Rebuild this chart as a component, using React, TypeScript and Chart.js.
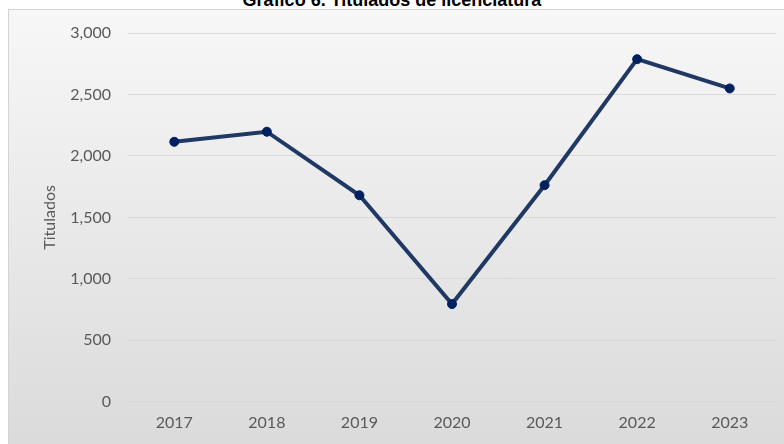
import React, { useEffect, useRef } from "react";
import { Chart, registerables } from "chart.js";

Chart.register(...registerables);

const titleText = "Gráfico 6. Titulados de licenciatura";
const yAxisTitle = "Titulados";
const years = ["2017", "2018", "2019", "2020", "2021", "2022", "2023"];
const titulados = [2115, 2197, 1680, 795, 1762, 2787, 2549];
const yTicks = [0, 500, 1000, 1500, 2000, 2500, 3000];

export default function App() {
  const ref = useRef<HTMLCanvasElement>(null);

  useEffect(() => {
    if (!ref.current) return;
    const chart = new Chart(ref.current, {
      type: "line",
      data: {
        labels: years,
        datasets: [
          {
            data: titulados,
            borderColor: "#203864",
            borderWidth: 4,
            pointRadius: 4.5,
            pointBackgroundColor: "#002060",
            pointBorderColor: "#002060",
            pointBorderWidth: 1,
            tension: 0,
          },
        ],
      },
      options: {
        animation: false,
        responsive: false,
        maintainAspectRatio: false,
        layout: { padding: { left: 8, right: 8, top: 33, bottom: 1 } },
        plugins: { legend: { display: false }, title: { display: false }, tooltip: { enabled: false } },
        scales: {
          x: {
            offset: true,
            grid: { display: false, drawTicks: false, offset: true },
            border: { display: false },
            ticks: { color: "#595959", font: { family: "Lato", size: 16 }, padding: 11 },
          },
          y: {
            min: 0,
            max: 3000,
            afterBuildTicks: (scale: any) => {
              scale.ticks = yTicks.map((v) => ({ value: v }));
            },
            afterFit: (scale: any) => {
              scale.width = 120;
            },
            grid: { color: "#d9d9d9", lineWidth: 1, drawTicks: false },
            border: { display: false },
            ticks: {
              color: "#595959",
              font: { family: "Lato", size: 16 },
              padding: 17,
              callback: (v: any) => Number(v).toLocaleString("en-US"),
            },
            title: {
              display: true,
              text: yAxisTitle,
              color: "#595959",
              font: { family: "Lato", size: 16 },
              padding: { top: 32, bottom: 0 },
            },
          },
        },
      },
    });
    return () => chart.destroy();
  }, []);

  return (
    <div style={{ position: "fixed", left: 0, top: 0, width: 784, height: 444, background: "#ffffff", overflow: "hidden" }}>
      <div
        style={{
          position: "absolute",
          left: 8,
          top: 9,
          width: 800,
          height: 460,
          border: "1px solid #d4d4d4",
          background: "linear-gradient(to bottom, #f7f7f7 0%, #d9d9d9 100%)",
        }}
      />
      <div
        style={{
          position: "absolute",
          left: 0,
          width: 784,
          top: -9,
          lineHeight: "18px",
          textAlign: "center",
          fontFamily: "'Liberation Sans', Arial, sans-serif",
          fontWeight: "bold",
          fontSize: 18,
          color: "#000",
          whiteSpace: "nowrap",
        }}
      >
        {titleText}
      </div>
      <canvas ref={ref} width={784} height={444} style={{ position: "absolute", left: 0, top: 0, width: 784, height: 444 }} />
    </div>
  );
}
